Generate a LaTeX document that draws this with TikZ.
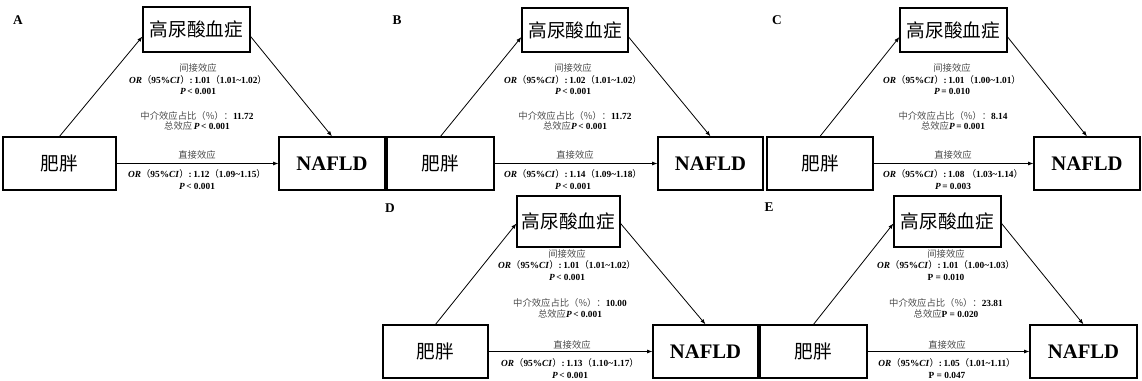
\documentclass[tikz,border=0pt]{standalone}
\usepackage{fontspec}
\setmainfont{Liberation Serif}
\newfontfamily\cjk{Noto Sans CJK SC}
\usetikzlibrary{arrows.meta,calc}

% small text pieces
\newcommand{\zh}[1]{{\cjk\mdseries #1}}
\newcommand{\gz}[1]{\textcolor{black!70}{\zh{#1}}}
\newcommand{\pv}[1]{\textbf{\textit{P}\,#1}}
\newcommand{\orci}[2]{\textbf{\textit{OR}}\zh{（}\textbf{95\%\textit{CI}}\zh{）}\textbf{:\,#1}\zh{（}\textbf{#2}\zh{）}}

\tikzset{
  pbox/.style 2 args={draw, line width=0.9pt, inner sep=0pt, minimum width=#1*0.75pt, minimum height=#2*0.75pt},
  cn/.style={font=\cjk\fontsize{14}{16}\selectfont},
  en/.style={font=\bfseries\fontsize{15.5}{18}\selectfont},
  conn/.style={-{Latex[length=4pt,width=3pt]}, line width=0.6pt},
  lbl/.style={font=\bfseries\fontsize{10}{11}\selectfont},
  info/.style={align=center, inner sep=0pt, font=\fontsize{7}{8.6}\selectfont},
  ratio/.style={align=center, inner sep=0pt, font=\fontsize{7}{7.8}\selectfont},
}

\begin{document}
\begin{tikzpicture}[x=0.75pt,y=0.75pt,yscale=-1]
\useasboundingbox (0,0) rectangle (1142,381);

%Panel A
\node[pbox={113}{53}, cn] (fatA) at (59.5,163.5) {肥胖};
\node[pbox={107}{45}, cn] (huaA) at (196.5,29.5) {高尿酸血症};
\node[pbox={106}{53}, en] (nafA) at (332,163.5) {NAFLD};
\node[lbl] (labA) at (18,20) {A};
\draw[conn] (fatA.north) -- ($(huaA.west)+(0,7)$);
\draw[conn] ($(huaA.east)+(0,7)$) -- (nafA.north);
\draw[conn] (fatA.east) -- (nafA.west);
\node[info] (indA) at (198,79.5) {\gz{间接效应}\\\orci{1.01}{1.01\textasciitilde1.02}\\\pv{< 0.001}};
\node[ratio] (propA) at (197,121) {\gz{中介效应占比（\%）：}\textbf{11.72}\\\gz{总效应}\,\pv{< 0.001}};
\node[info] (dirA) at (197,155) {\gz{直接效应}};
\node[info] (ciA) at (197,179.5) {\orci{1.12}{1.09\textasciitilde1.15}\\\pv{< 0.001}};

%Panel B
\node[pbox={107}{53}, cn] (fatB) at (440.5,163.5) {肥胖};
\node[pbox={106}{44}, cn] (huaB) at (575,30) {高尿酸血症};
\node[pbox={105}{53}, en] (nafB) at (710.5,163.5) {NAFLD};
\node[lbl] (labB) at (397,20) {B};
\draw[conn] (fatB.north) -- ($(huaB.west)+(0,7)$);
\draw[conn] ($(huaB.east)+(0,7)$) -- (nafB.north);
\draw[conn] (fatB.east) -- (nafB.west);
\node[info] (indB) at (573,79.5) {\gz{间接效应}\\\orci{1.02}{1.01\textasciitilde1.02}\\\pv{< 0.001}};
\node[ratio] (propB) at (575,121) {\gz{中介效应占比（\%）：}\textbf{11.72}\\\gz{总效应}\pv{< 0.001}};
\node[info] (dirB) at (575,155) {\gz{直接效应}};
\node[info] (ciB) at (573,179.5) {\orci{1.14}{1.09\textasciitilde1.18}\\\pv{< 0.001}};

%Panel C
\node[pbox={106}{53}, cn] (fatC) at (820,163.5) {肥胖};
\node[pbox={107}{44}, cn] (huaC) at (953.5,30) {高尿酸血症};
\node[pbox={106}{53}, en] (nafC) at (1087,163.5) {NAFLD};
\node[lbl] (labC) at (777,20) {C};
\draw[conn] (fatC.north) -- ($(huaC.west)+(0,7)$);
\draw[conn] ($(huaC.east)+(0,7)$) -- (nafC.north);
\draw[conn] (fatC.east) -- (nafC.west);
\node[info] (indC) at (952,79.5) {\gz{间接效应}\\\orci{1.01}{1.00\textasciitilde1.01}\\\pv{= 0.010}};
\node[ratio] (propC) at (953,121) {\gz{中介效应占比（\%）：}\textbf{8.14}\\\gz{总效应}\pv{= 0.001}};
\node[info] (dirC) at (953,155) {\gz{直接效应}};
\node[info] (ciC) at (953,179.5) {\orci{1.08\ }{1.03\textasciitilde1.14}\\\pv{= 0.003}};

%Panel D
\node[pbox={105}{53}, cn] (fatD) at (435.5,351.5) {肥胖};
\node[pbox={103}{51}, cn] (huaD) at (568.5,221.5) {高尿酸血症};
\node[pbox={105}{53}, en] (nafD) at (705.5,351.5) {NAFLD};
\node[lbl] (labD) at (390,208) {D};
\draw[conn] (fatD.north) -- ($(huaD.west)+(0,2)$);
\draw[conn] ($(huaD.east)+(0,2)$) -- (nafD.north);
\draw[conn] (fatD.east) -- (nafD.west);
\node[info] (indD) at (567,265) {\gz{间接效应}\\\orci{1.01}{1.01\textasciitilde1.02}\\\pv{< 0.001}};
\node[ratio] (propD) at (570,308.5) {\gz{中介效应占比（\%）：}\textbf{10.00}\\\gz{总效应}\pv{< 0.001}};
\node[info] (dirD) at (572,345) {\gz{直接效应}};
\node[info] (ciD) at (570,368.5) {\orci{1.13}{1.10\textasciitilde1.17}\\\pv{< 0.001}};

%Panel E
\node[pbox={107}{53}, cn] (fatE) at (813.5,351.5) {肥胖};
\node[pbox={107}{51}, cn] (huaE) at (947.5,221.5) {高尿酸血症};
\node[pbox={107}{53}, en] (nafE) at (1083.5,351.5) {NAFLD};
\node[lbl] (labE) at (769,207) {E};
\draw[conn] (fatE.north) -- ($(huaE.west)+(0,2)$);
\draw[conn] ($(huaE.east)+(0,2)$) -- (nafE.north);
\draw[conn] (fatE.east) -- (nafE.west);
\node[info] (indE) at (946,265) {\gz{间接效应}\\\orci{1.01}{1.00\textasciitilde1.03}\\\textbf{P = 0.010}};
\node[ratio] (propE) at (946,308.5) {\gz{中介效应占比（\%）：}\textbf{23.81}\\\gz{总效应}\textbf{P = 0.020}};
\node[info] (dirE) at (947,345) {\gz{直接效应}};
\node[info] (ciE) at (947,368.5) {\orci{1.05}{1.01\textasciitilde1.11}\\\textbf{P = 0.047}};

\end{tikzpicture}
\end{document}
